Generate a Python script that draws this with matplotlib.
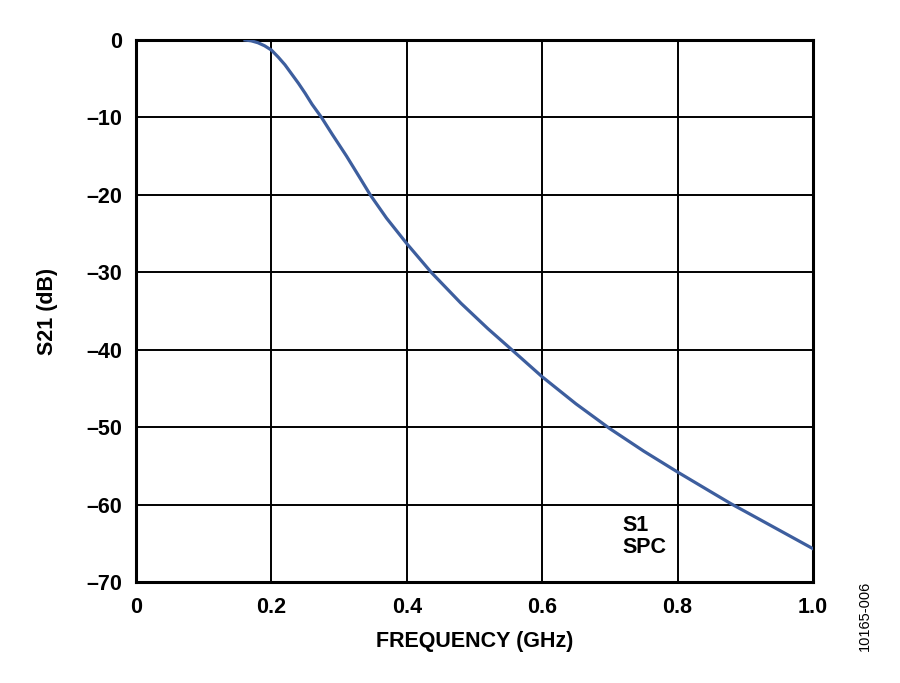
import numpy as np
import matplotlib.pyplot as plt

plt.rcParams['font.family'] = ['Liberation Sans', 'DejaVu Sans']
plt.rcParams['font.weight'] = 'bold'

# S21 response
freq_ghz = [0.161, 0.17, 0.18, 0.19, 0.20, 0.21, 0.22, 0.23, 0.24, 0.25, 0.26,
            0.274, 0.29, 0.311, 0.33, 0.346, 0.37, 0.40, 0.436, 0.48, 0.52,
            0.555, 0.60, 0.65, 0.70, 0.75, 0.80, 0.85, 0.879, 0.90, 0.95, 1.00]
s21_db = [0.0, -0.1, -0.35, -0.75, -1.3, -2.2, -3.2, -4.4, -5.6, -6.9, -8.3,
          -10.0, -12.2, -15.0, -17.7, -20.0, -23.0, -26.3, -30.0, -34.0, -37.3,
          -40.0, -43.5, -47.0, -50.2, -53.1, -55.8, -58.4, -59.9, -60.9, -63.3,
          -65.7]

x_ticks = [0, 0.2, 0.4, 0.6, 0.8, 1.0]
x_labels = ['0', '0.2', '0.4', '0.6', '0.8', '1.0']
y_ticks = [0, -10, -20, -30, -40, -50, -60, -70]
y_labels = ['0', '\u201310', '\u201320', '\u201330', '\u201340', '\u201350', '\u201360', '\u201370']

fig = plt.figure(figsize=(9, 6.83), dpi=100)
ax = fig.add_axes([136/900, 1 - 582/683, 677/900, 542/683])

ax.plot(freq_ghz, s21_db, color='#3D5E9E', linewidth=2.3, zorder=3,
        solid_joinstyle='round')

ax.set_xlim(0, 1.0)
ax.set_ylim(-70, 0)
ax.set_xticks(x_ticks)
ax.set_xticklabels(x_labels)
ax.set_yticks(y_ticks)
ax.set_yticklabels(y_labels)
ax.grid(True, color='black', linewidth=1.4)
ax.tick_params(axis='x', length=0, labelsize=15.5, pad=11)
ax.tick_params(axis='y', length=0, labelsize=15.5, pad=10)
for s in ax.spines.values():
    s.set_linewidth(2.2)

ax.set_xlabel('FREQUENCY (GHz)', fontsize=15.5, fontweight='bold', labelpad=9)
ax.set_ylabel('S21 (dB)', fontsize=15.5, fontweight='bold', labelpad=20)

# curve label
ax.text(0.719, -61.3, 'S1\nSPC', fontsize=15.5, fontweight='bold', va='top',
        ha='left', linespacing=1.08)

fig.text(865/900, 1 - 616/683, '10165-006', rotation=90, fontsize=10.5,
         fontweight='normal', ha='center', va='center')

fig.savefig('out.png', dpi=100)
